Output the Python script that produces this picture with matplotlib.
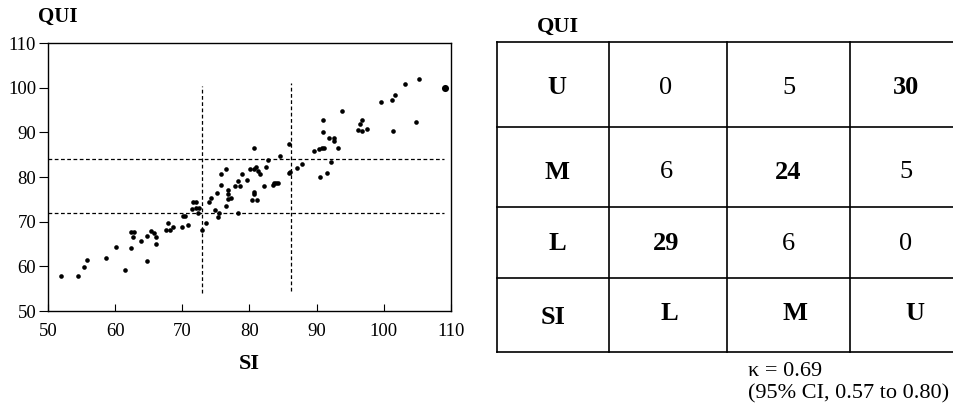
import matplotlib.pyplot as plt

plt.rcParams['font.family'] = ['Liberation Serif', 'DejaVu Serif']

# scatter values
si = [52.0, 54.5, 55.3, 55.8, 58.7, 60.1, 61.4, 62.3, 62.3, 62.8, 62.6, 63.9,
      64.7, 64.7, 65.4, 65.8, 66.1, 66.1, 67.5, 67.9, 68.1, 68.6, 70.0, 70.1,
      70.4, 70.9, 71.4, 71.6, 72.0, 72.1, 72.4, 72.5, 73.0, 73.5, 73.9, 74.2,
      74.9, 75.2, 75.3, 75.4, 75.7, 75.7, 76.5, 76.5, 76.8, 76.8, 76.8, 77.2,
      77.8, 78.3, 78.3, 78.6, 78.9, 79.7, 80.1, 80.3, 80.6, 80.6, 80.6, 80.7,
      81.0, 81.1, 81.2, 81.5, 82.2, 82.4, 82.7, 83.5, 83.6, 83.9, 84.3, 84.5,
      85.9, 85.9, 86.1, 87.0, 87.8, 89.6, 90.3, 90.5, 90.8, 91.0, 91.0, 91.1,
      91.5, 91.8, 92.1, 92.6, 92.6, 93.2, 93.7, 96.2, 96.5, 96.7, 96.7, 97.5,
      99.6, 101.2, 101.3, 101.7, 103.1, 104.8, 105.3, 109.1]
qui = [57.9, 57.9, 59.9, 61.5, 61.9, 64.4, 59.1, 64.0, 67.6, 67.6, 66.5, 65.6,
       66.8, 61.2, 68.0, 67.4, 66.5, 65.1, 68.1, 69.6, 68.1, 68.7, 68.9, 71.3,
       71.3, 69.2, 72.8, 74.3, 74.3, 73.0, 71.9, 73.0, 68.1, 69.8, 74.3, 75.2,
       72.5, 76.5, 71.0, 72.0, 78.2, 80.6, 81.9, 73.6, 77.1, 76.3, 75.0, 75.4,
       78.0, 71.9, 79.1, 78.0, 80.6, 79.3, 81.7, 74.8, 76.7, 76.1, 86.4, 81.7,
       82.3, 74.8, 81.4, 80.6, 78.0, 82.3, 83.8, 78.2, 78.7, 78.7, 78.7, 84.7,
       87.4, 80.8, 81.2, 82.0, 82.9, 85.8, 86.2, 79.9, 86.4, 92.8, 90.0, 86.6,
       81.0, 88.7, 83.4, 88.8, 88.1, 86.4, 94.7, 90.6, 91.8, 92.8, 90.3, 90.7,
       96.8, 97.3, 90.3, 98.4, 100.8, 92.3, 101.9, 99.9]

si_cuts = [73, 86.2]
qui_cuts = [84, 72]

row_labels = ['U', 'M', 'L']
col_labels = ['L', 'M', 'U']
counts = [[0, 5, 30],
          [6, 24, 5],
          [29, 6, 0]]
kappa_text = 'κ = 0.69\n(95% CI, 0.57 to 0.80)'

fig = plt.figure(figsize=(9.54, 4.11), dpi=100)
W, H = 954, 411

# ---- scatter panel ----
ax = fig.add_axes([48 / W, 1 - 311 / H, 403 / W, 268 / H])
ax.scatter(si, qui, s=11, color='black', linewidths=0, zorder=3)
ax.scatter(si[-1:], qui[-1:], s=26, color='black', linewidths=0, zorder=3)
ax.plot([si_cuts[0]] * 2, [54.1, 100.4], color='black', lw=0.9, ls=(0, (3, 2)))
ax.plot([si_cuts[1]] * 2, [54.5, 101], color='black', lw=0.9, ls=(0, (3, 2)))
for q in qui_cuts:
    ax.plot([50, 109], [q, q], color='black', lw=0.9, ls=(0, (3, 2)))
ax.set_xlim(50, 110)
ax.set_ylim(50, 110)
ax.set_xticks(range(50, 111, 10))
ax.set_yticks(range(50, 111, 10))
ax.tick_params(axis='x', direction='in', length=5, labelsize=13.5, pad=9)
ax.tick_params(axis='y', direction='out', length=6.5, labelsize=13.5, pad=2)
for sp in ax.spines.values():
    sp.set_linewidth(1.0)
ax.set_xlabel('SI', fontsize=16, fontweight='bold', labelpad=10)
fig.text(58 / W, 1 - 17 / H, 'QUI', fontsize=15, fontweight='bold',
         ha='center', va='center')

# ---- agreement table ----
tab = fig.add_axes([0, 0, 1, 1])
tab.set_xlim(0, W)
tab.set_ylim(H, 0)
tab.axis('off')
col_edges = [497, 609, 727, 850, 954]
row_edges = [42, 127, 207, 278, 352]
for x in col_edges[:-1]:
    tab.plot([x, x], [row_edges[0], row_edges[-1]], color='black', lw=1.2)
for y in row_edges:
    tab.plot([col_edges[0], col_edges[-1]], [y, y], color='black', lw=1.2)

def cx(i):
    return (col_edges[i] + col_edges[i + 1]) / 2

def cy(j):
    return (row_edges[j] + row_edges[j + 1]) / 2

col_shift = [-2, 0, 4]
row_shift = [3, 5, 1]
for j, lab in enumerate(row_labels):
    tab.text(cx(0) + 4, cy(j) + row_shift[j], lab, fontsize=19,
             fontweight='bold', ha='center', va='center')
    for i, v in enumerate(counts[j]):
        bold = (2 - j) == i
        tab.text(cx(i + 1) + col_shift[i], cy(j) + row_shift[j], str(v),
                 fontsize=19, fontweight='bold' if bold else 'normal',
                 ha='center', va='center')
tab.text(cx(0), cy(3) + 2, 'SI', fontsize=19, fontweight='bold',
         ha='center', va='center')
for i, lab in enumerate(col_labels):
    tab.text(cx(i + 1) + [1, 7, 13][i], cy(3) - 2, lab, fontsize=19,
             fontweight='bold', ha='center', va='center')
tab.text(558, 27, 'QUI', fontsize=16, fontweight='bold', ha='center', va='center')
tab.text(748, 362, kappa_text, fontsize=16, ha='left', va='top', linespacing=1.2)

fig.savefig('out.png', dpi=100)
